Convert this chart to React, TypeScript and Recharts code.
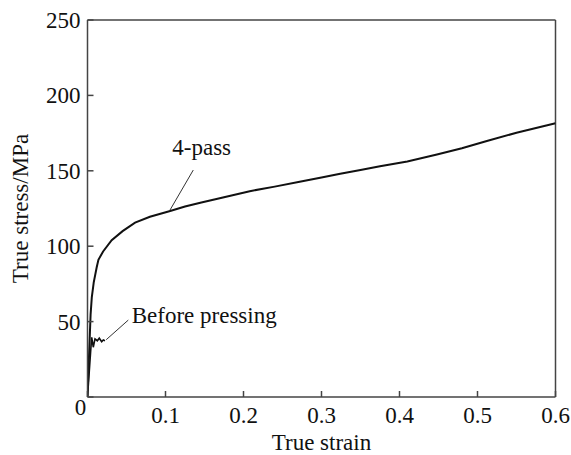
import {
  Line,
  LineChart,
  ReferenceDot,
  ReferenceLine,
  XAxis,
  YAxis,
  Label,
} from "recharts";

const strainTicks = [0, 0.1, 0.2, 0.3, 0.4, 0.5, 0.6];
const stressTicks = [0, 50, 100, 150, 200, 250];

// 4-pass curve (true strain, true stress MPa)
const fourPassStrain = [
  0, 0.002, 0.004, 0.0055, 0.008, 0.0118, 0.014, 0.02, 0.031, 0.045, 0.061,
  0.08, 0.106, 0.125, 0.146, 0.175, 0.208, 0.24, 0.272, 0.3, 0.324, 0.35,
  0.375, 0.41, 0.448, 0.48, 0.512, 0.55, 0.6,
];
const fourPassStress = [
  0, 28, 55, 66, 76, 86, 91, 96.5, 104, 110, 115.6, 119.5, 123.3, 126.3, 129,
  132.5, 136.5, 139.5, 142.8, 145.5, 148, 150.5, 153, 156.2, 160.8, 165,
  169.8, 175.2, 181.5,
];

// before pressing curve
const beforeStrain = [
  0, 0.002, 0.004, 0.0054, 0.0074, 0.0096, 0.0126, 0.0151, 0.0182, 0.0203,
  0.0224,
];
const beforeStress = [0, 15, 30, 39.6, 33, 38.5, 37.3, 39, 36.7, 37.8, 37.3];

const fourPass = fourPassStrain.map((x, i) => ({ x, y: fourPassStress[i] }));
const before = beforeStrain.map((x, i) => ({ x, y: beforeStress[i] }));

const FONT = "'Liberation Serif', 'Times New Roman', serif";
const AXIS = "#444";

// inward tick marks drawn with the label
const XTick = (props: any) => {
  const { x, y, payload } = props;
  const v = payload.value as number;
  return (
    <g>
      <path d={`M${x},${y}V${y - 6}`} stroke={AXIS} strokeWidth={1.5} fill="none" />
      <text
        x={v === 0 ? x - 7 : x}
        y={v === 0 ? y + 18 : y + 26}
        textAnchor="middle"
        fontFamily={FONT}
        fontSize={23}
        fill="#111"
      >
        {String(v)}
      </text>
    </g>
  );
};

const YTick = (props: any) => {
  const { x, y, payload } = props;
  const v = payload.value as number;
  return (
    <g>
      <path d={`M${x},${y}H${x + 6}`} stroke={AXIS} strokeWidth={1.5} fill="none" />
      {v !== 0 && (
        <text
          x={x - 7}
          y={y + 8}
          textAnchor="end"
          fontFamily={FONT}
          fontSize={23}
          fill="#111"
        >
          {v}
        </text>
      )}
    </g>
  );
};

const TextAt = (text: string, anchor: "start" | "middle", dy: number) => (props: any) => {
  const { viewBox } = props;
  return (
    <text
      x={viewBox.x}
      y={viewBox.y + dy}
      textAnchor={anchor}
      fontFamily={FONT}
      fontSize={23}
      fill="#111"
    >
      {text}
    </text>
  );
};

const App = () => {
  return (
    <div style={{ position: "absolute", left: 0, top: 0 }}>
      <LineChart
        width={571}
        height={455}
        margin={{ top: 20, right: 15.5, left: 0, bottom: 0 }}
        style={{ fontFamily: FONT }}
      >
        <XAxis
          type="number"
          dataKey="x"
          domain={[0, 0.6]}
          ticks={strainTicks}
          allowDataOverflow
          height={58}
          tickSize={0}
          tickMargin={0}
          tickLine={false}
          tick={<XTick />}
          axisLine={{ stroke: AXIS, strokeWidth: 1.5 }}
        >
          <Label
            content={(p: any) => (
              <text
                x={p.viewBox.x + p.viewBox.width / 2}
                y={p.viewBox.y + 53}
                textAnchor="middle"
                fontFamily={FONT}
                fontSize={23}
                fill="#111"
              >
                True strain
              </text>
            )}
          />
        </XAxis>
        <YAxis
          type="number"
          dataKey="y"
          domain={[0, 250]}
          ticks={stressTicks}
          allowDataOverflow
          width={87.5}
          tickSize={0}
          tickMargin={0}
          tickLine={false}
          tick={<YTick />}
          axisLine={{ stroke: AXIS, strokeWidth: 1.5 }}
        >
          <Label
            content={(p: any) => {
              const cx = 20;
              const cy = p.viewBox.y + p.viewBox.height / 2;
              return (
                <text
                  x={cx}
                  y={cy}
                  transform={`rotate(-90 ${cx} ${cy})`}
                  textAnchor="middle"
                  dominantBaseline="central"
                  fontFamily={FONT}
                  fontSize={23}
                  fill="#111"
                >
                  True stress/MPa
                </text>
              );
            }}
          />
        </YAxis>
        <ReferenceLine y={250} stroke={AXIS} strokeWidth={1.5} />
        <ReferenceLine x={0.6} stroke={AXIS} strokeWidth={1.5} />
        <Line
          data={before}
          dataKey="y"
          type="linear"
          stroke="#111"
          strokeWidth={1.6}
          dot={false}
          isAnimationActive={false}
        />
        <Line
          data={fourPass}
          dataKey="y"
          type="linear"
          stroke="#111"
          strokeWidth={2}
          dot={false}
          isAnimationActive={false}
        />
        <ReferenceLine
          segment={[
            { x: 0.1058, y: 124 },
            { x: 0.1356, y: 150.5 },
          ]}
          stroke="#333"
          strokeWidth={1}
        />
        <ReferenceLine
          segment={[
            { x: 0.024, y: 38 },
            { x: 0.0523, y: 51 },
          ]}
          stroke="#333"
          strokeWidth={1}
        />
        <ReferenceDot x={0.1464} y={164.5} r={0} fill="none" stroke="none">
          <Label content={TextAt("4-pass", "middle", 6)} />
        </ReferenceDot>
        <ReferenceDot x={0.0567} y={53.2} r={0} fill="none" stroke="none">
          <Label content={TextAt("Before pressing", "start", 6)} />
        </ReferenceDot>
      </LineChart>
    </div>
  );
};

export default App;
